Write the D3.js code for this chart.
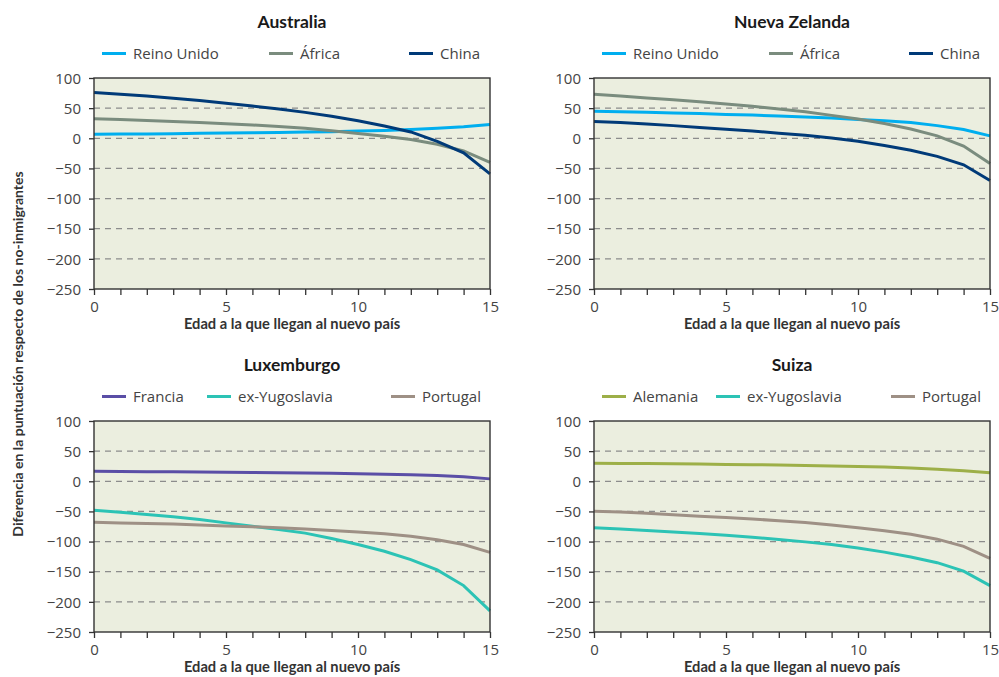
<!DOCTYPE html>
<html>
<head>
<meta charset="utf-8">
<script src="https://cdn.jsdelivr.net/npm/d3@7"></script>
<style>
  body { margin: 0; background: #fff; }
  text { font-family: "Open Sans", Lato, sans-serif; fill: #333; }
  .title { font-family: Lato, sans-serif; font-weight: bold; font-size: 17.5px; fill: #1a1a1a; }
  .axisTitle { font-family: Lato, sans-serif; font-weight: bold; font-size: 14.7px; fill: #333; }
  .yTitle { font-family: Lato, sans-serif; font-weight: bold; font-size: 14px; fill: #333; }
  .legendText { font-size: 15px; fill: #444; }
  .tick text { font-size: 15px; fill: #444; }
</style>
</head>
<body>
<script>
// Edad de llegada (eje x)
var ages = [0, 1, 2, 3, 4, 5, 6, 7, 8, 9, 10, 11, 12, 13, 14, 15];
var yTicks = [100, 50, 0, -50, -100, -150, -200, -250];
var gridValues = [50, 0, -50, -100, -150, -200];
var xTickLabels = [0, 5, 10, 15];

// Australia
var ausReino  = [6.5, 7, 7.3, 7.7, 8.2, 8.7, 9.2, 9.7, 10.3, 11, 12, 13, 14.5, 16.5, 19, 23];
var ausAfrica = [32.5, 31, 29.5, 28, 26, 24, 22, 19.5, 16.5, 12.5, 8, 3.5, -2, -10, -21, -40];
var ausChina  = [76, 73, 70, 66.5, 62.5, 58, 53.5, 48.5, 43, 36.5, 29, 20.5, 10.5, -5, -24, -59];

// Nueva Zelanda
var nzReino  = [45, 44, 43, 42, 41, 39.5, 38.5, 37, 35.5, 33.5, 31, 29, 26, 21, 14.5, 4];
var nzAfrica = [73, 70, 67, 64, 60.5, 57, 53, 48.5, 44, 38, 32, 24.5, 15.5, 4, -13, -42];
var nzChina  = [28, 26, 23.5, 21, 18, 15, 12, 8.5, 5, 0.5, -5, -12, -20, -30, -44, -70];

// Luxemburgo
var luxFrancia  = [16.5, 16.3, 16, 15.7, 15.3, 15, 14.6, 14.2, 13.7, 13.2, 12.5, 11.8, 10.8, 9.5, 7.5, 4];
var luxYugo     = [-48, -51.5, -55, -59, -63.5, -69, -74.5, -80, -86, -95, -105, -116, -130, -147, -173, -215];
var luxPortugal = [-68, -69, -70, -71, -72.5, -74, -75.5, -77, -79, -81.5, -84, -87, -91, -97, -105, -118];

// Suiza
var suiAlemania = [30, 29.7, 29.3, 29, 28.5, 28, 27.5, 27, 26.2, 25.4, 24.5, 23.5, 22, 20, 17.5, 14];
var suiYugo     = [-77, -79, -81.5, -84, -86.5, -89.5, -93, -96.5, -100.5, -105, -110.5, -117.5, -125.5, -135, -149, -173];
var suiPortugal = [-49.5, -51, -53, -55.5, -58, -60, -62.5, -65.5, -68.5, -72.5, -77, -82, -88, -96, -108, -128];

var colors = {
    reino: "#00aeef",
    africa: "#7a8c7e",
    china: "#003a78",
    francia: "#5a4ea6",
    yugo: "#2cc3b5",
    portugal: "#9e9085",
    alemania: "#9daf48"
};

// Panels: data + legend placement (relative to panel origin)
var panels = [
    { title: "Australia", ox: 0, top: 78,
      series: [
        { name: "Reino Unido", values: ausReino, color: colors.reino, lx: 102 },
        { name: "África", values: ausAfrica, color: colors.africa, lx: 269 },
        { name: "China", values: ausChina, color: colors.china, lx: 409 }
      ] },
    { title: "Nueva Zelanda", ox: 500, top: 78,
      series: [
        { name: "Reino Unido", values: nzReino, color: colors.reino, lx: 102 },
        { name: "África", values: nzAfrica, color: colors.africa, lx: 269 },
        { name: "China", values: nzChina, color: colors.china, lx: 409 }
      ] },
    { title: "Luxemburgo", ox: 0, top: 421,
      series: [
        { name: "Francia", values: luxFrancia, color: colors.francia, lx: 102 },
        { name: "ex-Yugoslavia", values: luxYugo, color: colors.yugo, lx: 207 },
        { name: "Portugal", values: luxPortugal, color: colors.portugal, lx: 391 }
      ] },
    { title: "Suiza", ox: 500, top: 421,
      series: [
        { name: "Alemania", values: suiAlemania, color: colors.alemania, lx: 102 },
        { name: "ex-Yugoslavia", values: suiYugo, color: colors.yugo, lx: 216 },
        { name: "Portugal", values: suiPortugal, color: colors.portugal, lx: 391 }
      ] }
];

var svgWidth = 999;
var svgHeight = 677;
var plotLeft = 94;
var plotWidth = 396;
var plotHeight = 211;

var svg = d3.select("body")
    .append("svg")
    .attr("width", svgWidth)
    .attr("height", svgHeight);

var xScale = d3.scaleLinear().domain([0, 15]).range([0, plotWidth]);
var yScale = d3.scaleLinear().domain([-250, 100]).range([plotHeight, 0]);

panels.forEach(function(p) {
    var g = svg.append("g")
        .attr("transform", `translate(${p.ox + plotLeft}, ${p.top})`);

    // background
    g.append("rect")
        .attr("width", plotWidth)
        .attr("height", plotHeight)
        .attr("fill", "#ebeedf");

    // dashed gridlines
    g.selectAll(".grid")
        .data(gridValues)
        .enter()
        .append("line")
        .attr("x1", 0)
        .attr("x2", plotWidth)
        .attr("y1", d => yScale(d))
        .attr("y2", d => yScale(d))
        .attr("stroke", "#8c8c8c")
        .attr("stroke-width", 1.3)
        .attr("stroke-dasharray", "6,5");

    // lines
    var line = d3.line()
        .x((d, i) => xScale(ages[i]))
        .y(d => yScale(d));

    g.selectAll(".series")
        .data(p.series)
        .enter()
        .append("path")
        .attr("d", d => line(d.values))
        .attr("fill", "none")
        .attr("stroke", d => d.color)
        .attr("stroke-width", 3);

    // border
    g.append("rect")
        .attr("width", plotWidth)
        .attr("height", plotHeight)
        .attr("fill", "none")
        .attr("stroke", "#333")
        .attr("stroke-width", 1.4);

    // axes
    var xAxis = d3.axisBottom(xScale)
        .tickValues(ages)
        .tickSize(6)
        .tickSizeOuter(0)
        .tickPadding(6)
        .tickFormat(d => xTickLabels.indexOf(d) >= 0 ? d : "");
    var gx = g.append("g")
        .attr("transform", `translate(0, ${plotHeight})`)
        .call(xAxis);
    gx.select(".domain").remove();
    gx.selectAll(".tick line").attr("stroke", "#333").attr("stroke-width", 1.3);

    var yAxis = d3.axisLeft(yScale)
        .tickValues(yTicks)
        .tickSize(5)
        .tickSizeOuter(0)
        .tickPadding(8)
        .tickFormat(d3.format("d"));
    var gy = g.append("g").call(yAxis);
    gy.select(".domain").remove();
    gy.selectAll(".tick line").attr("stroke", "#333").attr("stroke-width", 1.3);
    gy.selectAll(".tick text").attr("dy", "0.35em");

    // titles
    g.append("text")
        .attr("class", "title")
        .attr("x", plotWidth / 2)
        .attr("y", -50)
        .attr("text-anchor", "middle")
        .text(p.title);

    g.append("text")
        .attr("class", "axisTitle")
        .attr("x", plotWidth / 2)
        .attr("y", plotHeight + 40)
        .attr("text-anchor", "middle")
        .text("Edad a la que llegan al nuevo país");

    // legend
    var leg = svg.append("g")
        .attr("transform", `translate(${p.ox}, ${p.top})`);
    p.series.forEach(function(s) {
        leg.append("line")
            .attr("x1", s.lx)
            .attr("x2", s.lx + 24)
            .attr("y1", -24.5)
            .attr("y2", -24.5)
            .attr("stroke", s.color)
            .attr("stroke-width", 3);
        leg.append("text")
            .attr("class", "legendText")
            .attr("x", s.lx + 31)
            .attr("y", -19)
            .text(s.name);
    });
});

// shared y-axis title
svg.append("text")
    .attr("class", "yTitle")
    .attr("transform", "translate(23, 354) rotate(-90)")
    .attr("text-anchor", "middle")
    .text("Diferencia en la puntuación respecto de los no-inmigrantes");
</script>
</body>
</html>
